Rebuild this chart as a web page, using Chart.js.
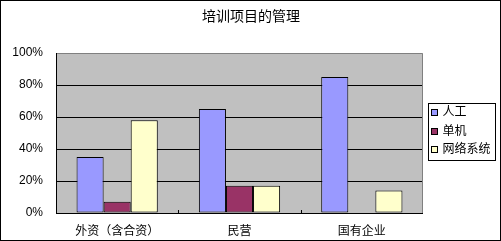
<!DOCTYPE html>
<html><head><meta charset="utf-8">
<script src="https://cdn.jsdelivr.net/npm/chart.js@4/dist/chart.umd.min.js"></script>
<style>html,body{margin:0;padding:0;background:#fff;}#wrap{width:501px;height:241px;position:relative;}</style>
</head><body><div id="wrap"><canvas id="c" width="501" height="241"></canvas></div>
<script>
const title = "培训项目的管理";
const categories = ["外资（含合资）", "民营", "国有企业"];
const seriesNames = ["人工", "单机", "网络系统"];
const manual = [0.35, 0.65, 0.85];
const standalone = [0.07, 0.17, 0];
const network = [0.58, 0.17, 0.14];
const yTicks = [0, 0.2, 0.4, 0.6, 0.8, 1.0];
const colors = ["#9999FF", "#993366", "#FFFFCC"];

const FONT = "'Liberation Sans', 'Noto Sans CJK SC', sans-serif";

const deco = {
  id: 'deco',
  beforeDraw(chart) {
    const {ctx, chartArea: a} = chart;
    ctx.save();
    ctx.fillStyle = '#C0C0C0';
    ctx.fillRect(a.left, a.top, a.right - a.left, a.bottom - a.top);
    ctx.restore();
  },
  afterDraw(chart) {
    const {ctx, chartArea: a} = chart;
    ctx.save();
    ctx.strokeStyle = '#808080';
    ctx.lineWidth = 1;
    ctx.beginPath();
    ctx.moveTo(Math.round(a.left) + 0.5, Math.round(a.top) + 0.5);
    ctx.lineTo(Math.round(a.right) - 0.5, Math.round(a.top) + 0.5);
    ctx.lineTo(Math.round(a.right) - 0.5, Math.round(a.bottom));
    ctx.stroke();
    ctx.strokeStyle = '#000';
    ctx.beginPath();
    ctx.moveTo(Math.round(a.left) + 0.5, Math.round(a.top));
    ctx.lineTo(Math.round(a.left) + 0.5, Math.round(a.bottom) + 0.5);
    ctx.lineTo(Math.round(a.right), Math.round(a.bottom) + 0.5);
    ctx.stroke();
    const n = categories.length;
    const w = (a.right - a.left) / n;
    ctx.beginPath();
    for (let i = 1; i < n; i++) {
      const px = Math.round(a.left + w * i) + 0.5;
      ctx.moveTo(px, Math.round(a.bottom) - 3);
      ctx.lineTo(px, Math.round(a.bottom));
    }
    ctx.stroke();
    ctx.fillStyle = '#000';
    ctx.font = "14px " + FONT;
    ctx.textAlign = 'center';
    ctx.textBaseline = 'middle';
    ctx.fillText(title, 251, 17);
    const lx = 428.5, ly = 103.5, lw = 67, lh = 57;
    ctx.strokeStyle = '#000';
    ctx.strokeRect(lx, ly, lw, lh);
    ctx.font = "12px " + FONT;
    ctx.textAlign = 'left';
    chart.data.datasets.forEach((ds, i) => {
      const cy = 113 + i * 18.5;
      ctx.fillStyle = ds.backgroundColor;
      ctx.fillRect(lx + 3, Math.round(cy) - 3.5, 6, 6);
      ctx.strokeRect(lx + 3, Math.round(cy) - 3.5, 6, 6);
      ctx.fillStyle = '#000';
      ctx.fillText(ds.label, lx + 14, cy);
    });
    ctx.strokeStyle = '#000';
    ctx.strokeRect(0.5, 0.5, 500, 240);
    ctx.restore();
  }
};

const seriesData = [manual, standalone, network];
new Chart(document.getElementById('c'), {
  type: 'bar',
  data: {
    labels: categories,
    datasets: seriesNames.map((name, i) => ({
      label: name,
      data: seriesData[i],
      backgroundColor: colors[i],
      borderColor: '#000',
      borderWidth: 1,
      borderSkipped: false,
      categoryPercentage: 0.664,
      barPercentage: 1
    }))
  },
  options: {
    responsive: false,
    animation: false,
    devicePixelRatio: 1,
    layout: {padding: {top: 53, right: 78, left: 0, bottom: 0}},
    plugins: {legend: {display: false}, title: {display: false}, tooltip: {enabled: false}},
    scales: {
      x: {
        grid: {display: false, drawTicks: false},
        border: {display: false},
        ticks: {color: '#000', font: {family: FONT, size: 12}, padding: 11, maxRotation: 0},
        afterFit(s) { s.height = 28; }
      },
      y: {
        min: 0, max: 1,
        afterBuildTicks(s) { s.ticks = yTicks.map(v => ({value: v})); },
        grid: {color: ctx => (ctx.tick && ctx.tick.value === 1) ? 'rgba(0,0,0,0)' : '#000', drawTicks: false, lineWidth: 1},
        border: {display: false},
        ticks: {color: '#000', font: {family: FONT, size: 12}, padding: 13,
          callback: v => Math.round(v * 100) + '%'},
        afterFit(s) { s.width = 56; }
      }
    }
  },
  plugins: [deco]
});
</script>
</body></html>
